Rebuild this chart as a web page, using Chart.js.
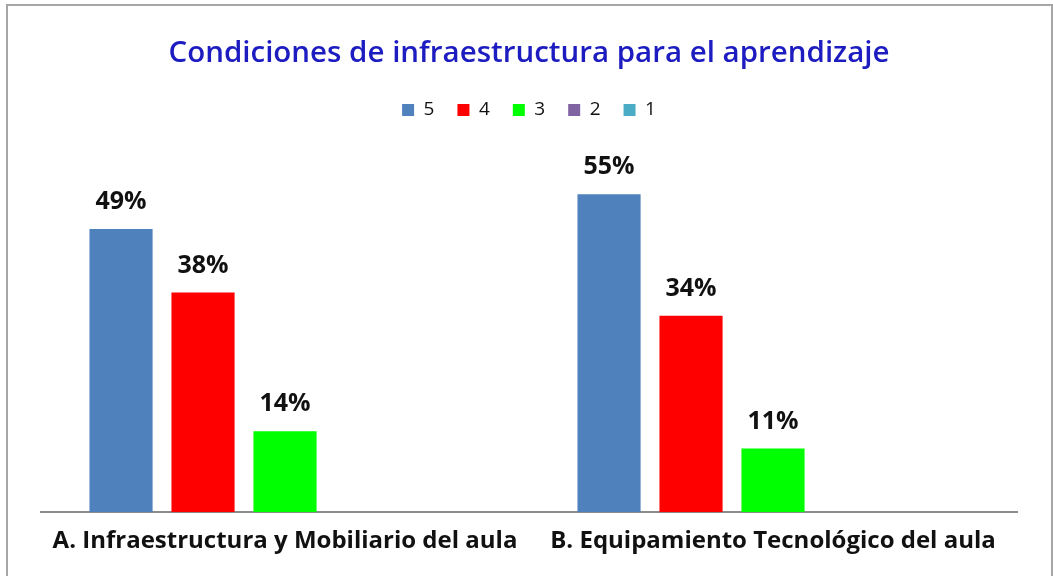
<!DOCTYPE html>
<html>
<head>
<meta charset="utf-8">
<script src="https://cdn.jsdelivr.net/npm/chart.js@4.4.0/dist/chart.umd.min.js"></script>
<style>
  html, body { margin: 0; padding: 0; background: #fff; }
  #wrap { position: relative; width: 1053px; height: 576px; overflow: hidden; }
  #frame {
    position: absolute; left: 6px; top: 4px; width: 1043px; height: 600px;
    border: 2px solid #a6a6a6; pointer-events: none;
  }
</style>
</head>
<body>
<div id="wrap">
  <canvas id="condChart" width="1053" height="576"></canvas>
  <div id="frame"></div>
</div>
<script>
const categories = ['A. Infraestructura y Mobiliario del aula', 'B. Equipamiento Tecnológico del aula'];
const seriesNames = ['5', '4', '3', '2', '1'];
const values5 = [49, 55];
const values4 = [38, 34];
const values3 = [14, 11];
const values2 = [null, null];
const values1 = [null, null];
const seriesColors = ['#4f81bd', '#ff0000', '#00ff00', '#8064a2', '#4bacc6'];

const FONT = '"Open Sans", Lato, sans-serif';

// draw the "49%" labels above each bar
const valueLabels = {
    id: 'valueLabels',
    afterDatasetsDraw(chart) {
        const ctx = chart.ctx;
        ctx.save();
        ctx.font = 'bold 25px ' + FONT;
        ctx.fillStyle = '#111';
        ctx.textAlign = 'center';
        ctx.textBaseline = 'middle';
        chart.data.datasets.forEach((ds, i) => {
            const meta = chart.getDatasetMeta(i);
            meta.data.forEach((bar, j) => {
                const v = ds.data[j];
                if (v === null || v === undefined) return;
                ctx.fillText(v + '%', bar.x, bar.y - 27);
            });
        });
        ctx.restore();
    }
};

const ctx = document.getElementById('condChart').getContext('2d');

const condChart = new Chart(ctx, {
    type: 'bar',
    data: {
        labels: categories,
        datasets: [values5, values4, values3, values2, values1].map((vals, i) => ({
            label: seriesNames[i],
            data: vals,
            backgroundColor: seriesColors[i],
            borderWidth: 0,
            barPercentage: 0.77,
            categoryPercentage: 0.84
        }))
    },
    options: {
        responsive: false,
        animation: false,
        layout: {
            padding: { top: 0, left: 41, right: 36, bottom: 6 }
        },
        plugins: {
            title: {
                display: true,
                text: 'Condiciones de infraestructura para el aprendizaje',
                color: '#1c1cc0',
                font: { family: FONT, size: 29.5, weight: '600' },
                padding: { top: 36, bottom: 6 }
            },
            // empty subtitle placed under the legend, used as spacing
            subtitle: {
                display: true,
                text: ' ',
                weight: 500,
                font: { size: 10 },
                padding: { top: 24, bottom: 0 }
            },
            legend: {
                display: true,
                position: 'top',
                labels: {
                    boxWidth: 12,
                    boxHeight: 12,
                    padding: 23,
                    color: '#111',
                    font: { family: FONT, size: 19 }
                }
            },
            tooltip: { enabled: false }
        },
        scales: {
            x: {
                grid: { display: false, drawTicks: false },
                border: { display: true, color: '#8c8c8c', width: 2 },
                ticks: {
                    color: '#111',
                    padding: 14.5,
                    font: { family: FONT, size: 24, weight: 'bold' }
                }
            },
            y: {
                display: false,
                min: 0,
                max: 60
            }
        }
    },
    plugins: [valueLabels]
});
</script>
</body>
</html>
